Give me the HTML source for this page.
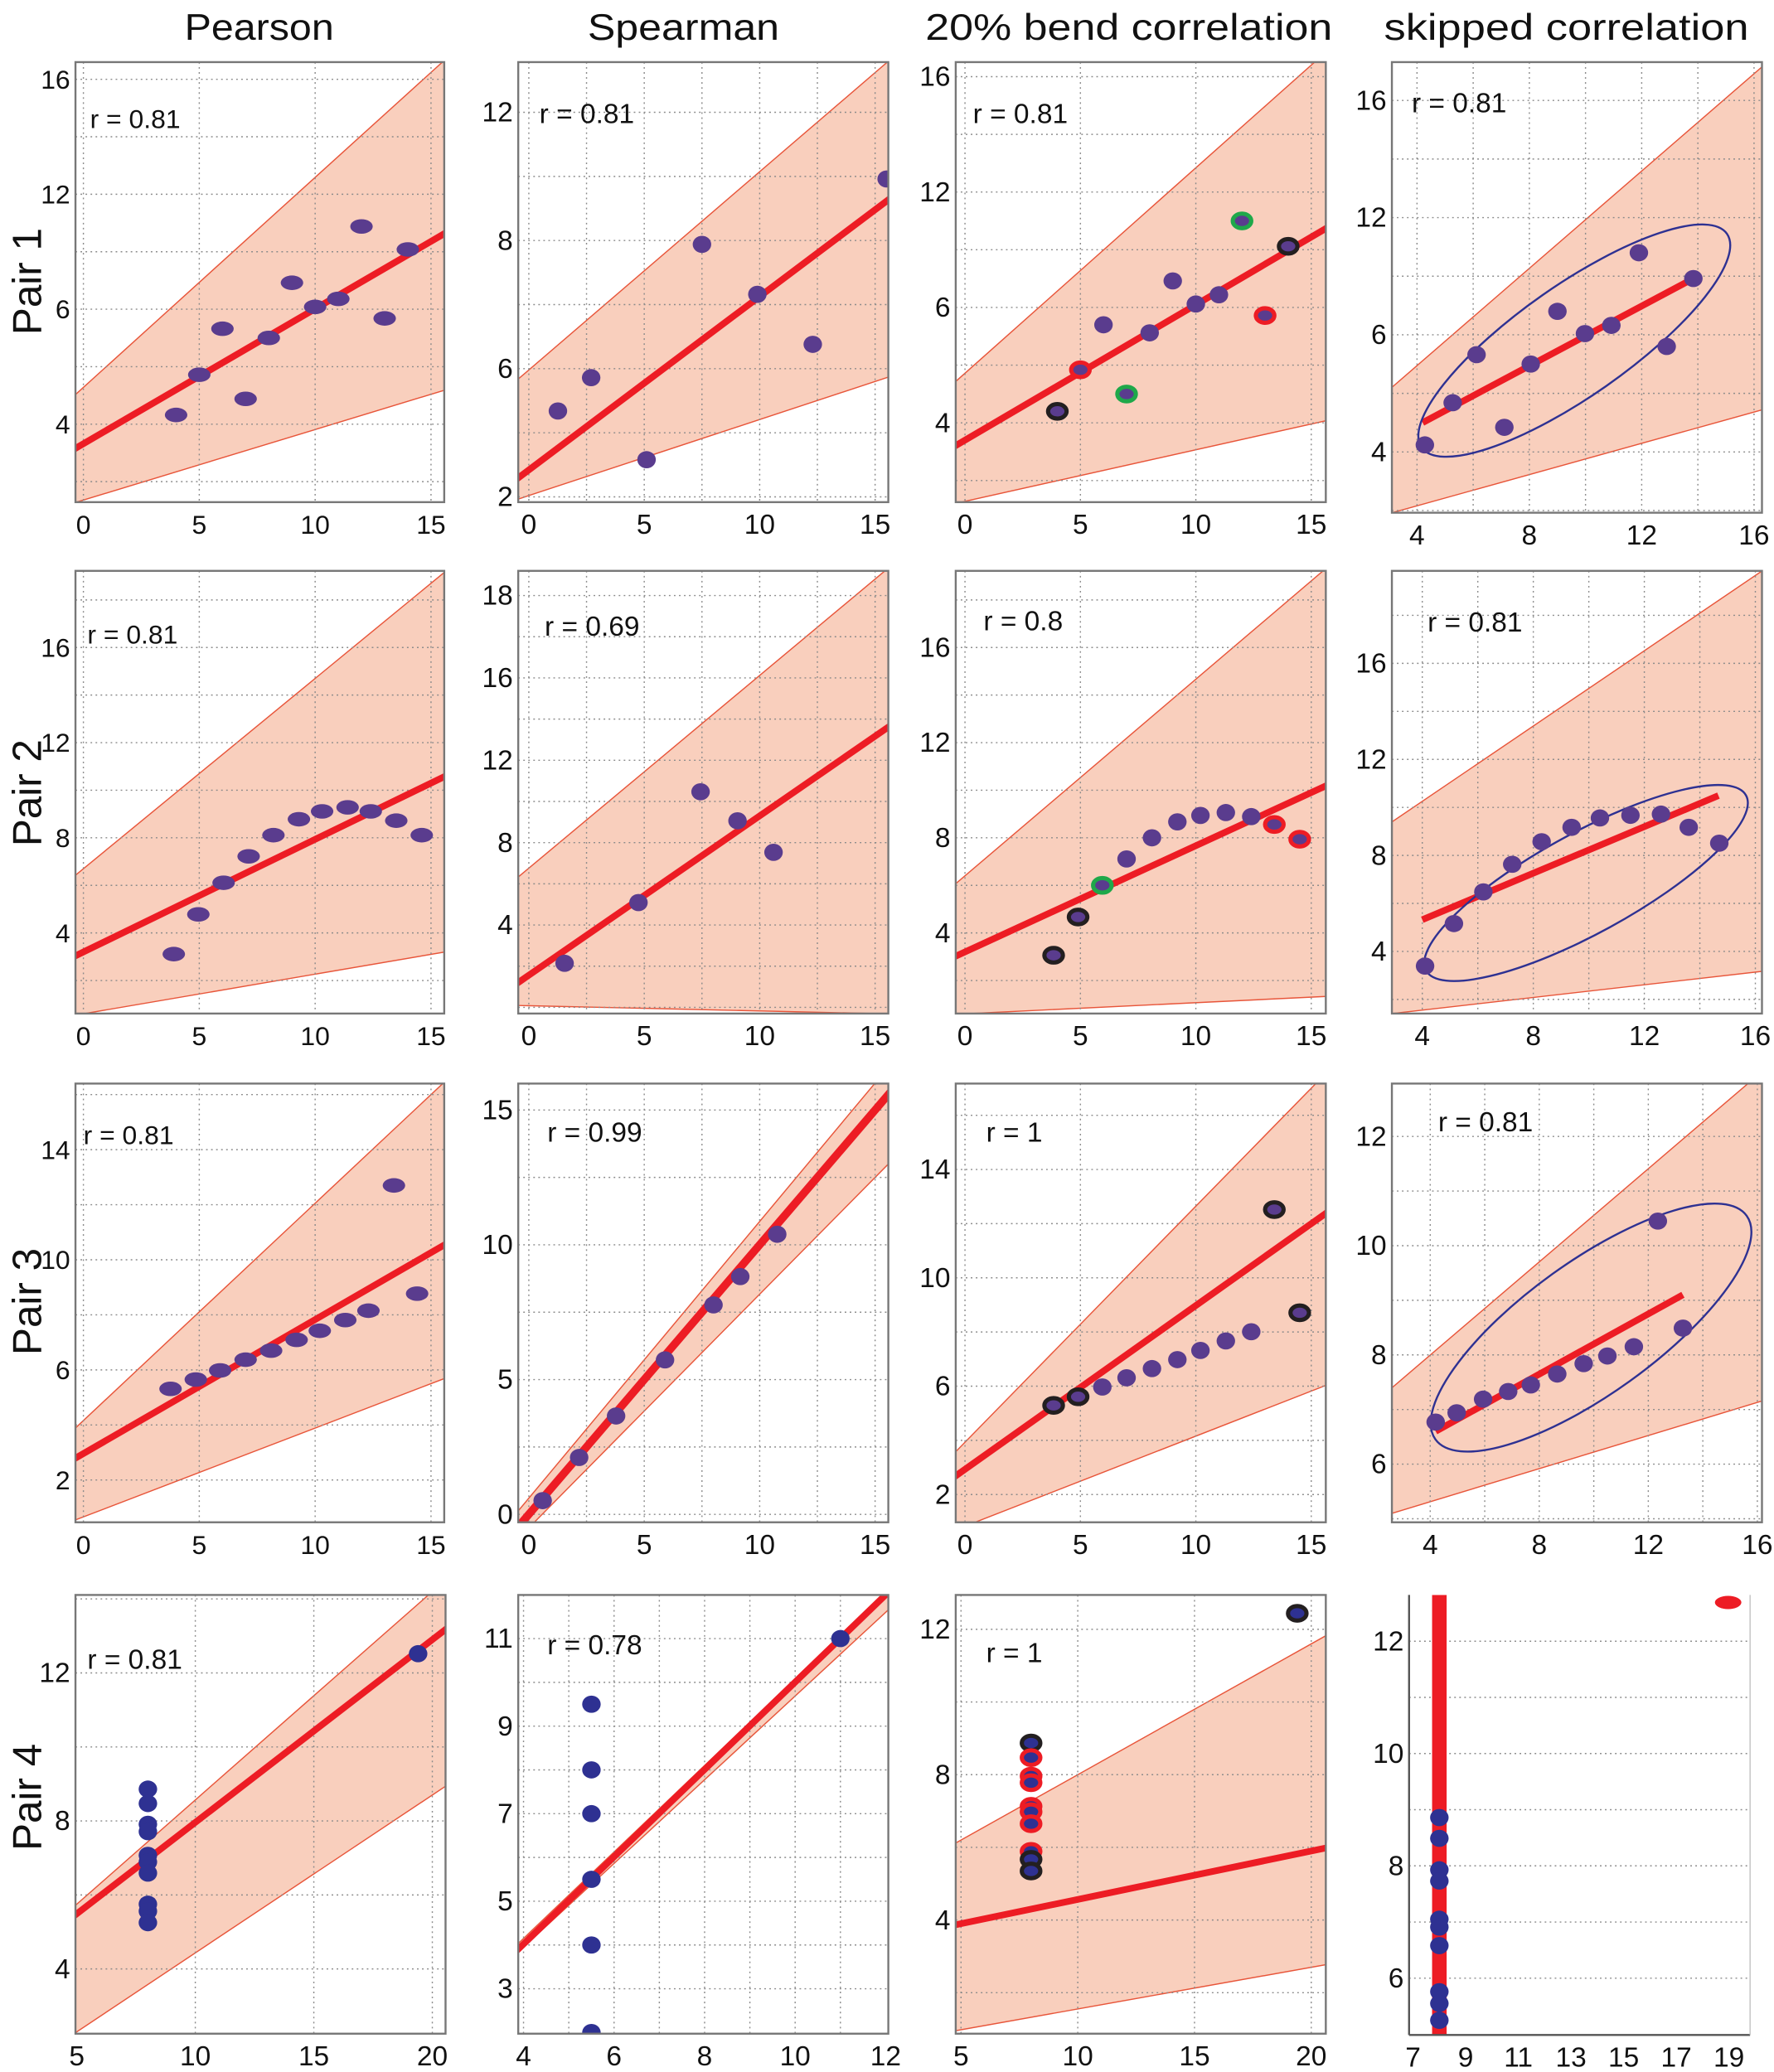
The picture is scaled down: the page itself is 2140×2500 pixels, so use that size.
<!DOCTYPE html>
<html><head><meta charset="utf-8"><style>
html,body{margin:0;padding:0;background:#fff}
svg{display:block}
text{font-family:"Liberation Sans Narrow","Liberation Sans",sans-serif;fill:#111}
text.wide{font-family:"Liberation Sans",sans-serif}
</style></head><body>
<svg id="fig" xmlns="http://www.w3.org/2000/svg" width="2140" height="2500" viewBox="0 0 1342 1568"></svg>
<script>
// ---- data arrays ----
const P11_X=[4,5,6,7,8,9,10,11,12,13,14];
const P11_Y=[0.08,0.43,0.83,0.22,0.75,1.23,1.02,1.09,1.72,0.92,1.52];
const P11_FIT=[-0.17,1.59], P11_UP=[0.32,3.06], P11_LO=[-0.66,0.26];
const P12_X=[1.26,2.7,5.1,7.5,9.9,12.3,15.5];
const P12_Y=[0.67,0.93,0.29,1.97,1.58,1.19,2.48];
const P12_FIT=[0.21,2.24], P12_UP=[0.99,3.31], P12_LO=[0.01,0.9];
const P13_X=[4,5,6,7,8,9,10,11,12,13,14];
const P13_Y=[0.10,0.46,0.85,0.25,0.78,1.23,1.03,1.11,1.75,0.93,1.53];
const P13_RING=['k','r','','g','','','','','g','r','k'];
const P13_FIT=[-0.15,1.61], P13_UP=[0.43,3.1], P13_LO=[-0.68,-0.01];
const P14_X=[4.28,5.27,6.12,7.11,8.05,9,9.98,10.92,11.9,12.89,13.84];
const P14_Y=[0.06,0.42,0.83,0.21,0.75,1.2,1.01,1.08,1.7,0.9,1.48];
const P14_FITX=[4.2,13.84], P14_FIT=[0.25,1.48], P14_UP=[0.55,3.29], P14_LO=[-0.52,0.36];
const P14_ELL=[9.6,0.95];
const P21_X=[3.9,4.96,6.05,7.13,8.2,9.3,10.3,11.4,12.4,13.5,14.6];
const P21_Y=[3.11,4.78,6.11,7.22,8.11,8.78,9.11,9.28,9.11,8.72,8.11];
const P21_FIT=[3.2,10.3], P21_UP=[6.7,18.7], P21_LO=[0.6,3.1];
const P22_X=[1.55,4.75,7.44,9.04,10.6];
const P22_Y=[2.14,5.09,10.47,9.06,7.53];
const P22_FIT=[1.56,13.17], P22_UP=[6.76,20.8], P22_LO=[0.08,-0.3];
const P23_X=[3.84,4.9,5.95,7.0,8.1,9.2,10.2,11.3,12.4,13.4,14.5];
const P23_Y=[3.06,4.67,6.0,7.11,8.0,8.67,8.94,9.06,8.89,8.56,7.94];
const P23_RING=['k','k','g','','','','','','','r','r'];
const P23_FIT=[3.2,9.9], P23_UP=[6.4,18.8], P23_LO=[0.6,1.3];
const P24_X=[4.1,5.14,6.2,7.24,8.3,9.38,10.4,11.5,12.6,13.6,14.7];
const P24_Y=[3.39,5.16,6.48,7.63,8.57,9.17,9.56,9.67,9.72,9.17,8.51];
const P24_FITX=[4,14.67], P24_FIT=[5.32,10.49], P24_UP=[9.39,19.85], P24_LO=[1.41,3.17];
const P24_ELL=[9.9,6.85];
const P31_X=[3.76,4.85,5.9,7.0,8.1,9.2,10.2,11.3,12.3,13.4,14.4];
const P31_Y=[5.31,5.65,5.98,6.37,6.7,7.09,7.42,7.81,8.15,12.7,8.77];
const P31_FIT=[2.96,10.26], P31_UP=[4.16,16.0], P31_LO=[0.66,5.5];
const P32_X=[0.6,2.18,3.78,5.9,8.0,9.16,10.76];
const P32_Y=[0.51,2.11,3.65,5.73,7.77,8.82,10.39];
const P32_FIT=[0.0,15.0], P32_UP=[0.6,16.0], P32_LO=[-0.5,12.5];
const P33_X=[3.84,4.9,5.95,7.0,8.1,9.2,10.2,11.3,12.4,13.4,14.5];
const P33_Y=[5.29,5.61,5.97,6.31,6.65,6.98,7.32,7.67,8.01,12.52,8.71];
const P33_RING=['k','k','','','','','','','','k','k'];
const P33_FIT=[2.93,12.0], P33_UP=[3.93,17.0], P33_LO=[0.83,5.82];
const P34_X=[4.2,4.97,5.94,6.86,7.69,8.66,9.63,10.5,11.47,12.35,13.27];
const P34_Y=[6.77,6.94,7.19,7.33,7.45,7.65,7.84,7.98,8.15,10.45,8.49];
const P34_FITX=[4.2,13.27], P34_FIT=[6.6,9.1], P34_UP=[7.4,13.2], P34_LO=[5.1,7.16];
const P34_ELL=[9.9,8.5];
const P41_X=[8,8,8,8,8,8,8,8,8,8,19.4];
const P41_Y=[8.86,8.47,7.91,7.71,7.07,6.89,6.59,5.75,5.56,5.25,12.52];
const P41_FIT=[5.49,12.9], P41_UP=[5.75,14.2], P41_LO=[2.3,8.7];
const P42_X=[5.5,5.5,5.5,5.5,5.5,5.5,11.0];
const P42_Y=[9.5,8.0,7.0,5.5,4.0,2.0,11.0];
const P42_FIT=[4.02,12.0], P42_UP=[4.15,12.05], P42_LO=[3.95,11.6];
const P43_X=[8,8,8,8,8,8,8,8,8,8,19.4];
const P43_Y=[8.87,8.47,7.96,7.78,7.13,6.98,6.65,5.89,5.67,5.35,12.44];
const P43_RING=['k','r','r','r','r','r','r','r','k','k','k'];
const P43_FIT=[3.9,5.9], P43_UP=[6.2,11.6], P43_LO=[0.98,2.7];
const P44_X=[8,8,8,8,8,8,8,8,8,8];
const P44_Y=[8.86,8.49,7.93,7.73,7.05,6.91,6.58,5.76,5.55,5.25];
const P44_BAR=[8];
const P44_OUT=[18.97,12.69];

// ---- panel layout ----
const PUR='#5a3c8e', BLU='#2e3192';
const panels=[
 {id:'pearson-pair1',box:[57,47,336,380],xa:[0,63],xb:[15,326],ya:[0,321],yb:[3,60],xt:[0,5,10,15],yt:[0,1,2,3],yl:['4','6','12','16'],gxm:false,X:P11_X,Y:P11_Y,fit:P11_FIT,up:P11_UP,lo:P11_LO,bx:[0,15],r:'r = 0.81',rp:[68,97],col:PUR,wide:true},
 {id:'spearman-pair1',box:[392,47,672,380],xa:[0,400],xb:[15,662],ya:[0,376],yb:[3,85],xt:[0,5,10,15],yt:[0,1,2,3],yl:['2','6','8','12'],gxm:true,X:P12_X,Y:P12_Y,fit:P12_FIT,up:P12_UP,lo:P12_LO,bx:[0,15],r:'r = 0.81',rp:[408,93],col:PUR},
 {id:'bend-pair1',box:[723,47,1003,380],xa:[0,730],xb:[15,992],ya:[0,320],yb:[3,58],xt:[0,5,10,15],yt:[0,1,2,3],yl:['4','6','12','16'],gxm:false,X:P13_X,Y:P13_Y,ring:P13_RING,fit:P13_FIT,up:P13_UP,lo:P13_LO,bx:[0,15],r:'r = 0.81',rp:[736,93],col:PUR},
 {id:'skipped-pair1',box:[1053,47,1333,388],xa:[4,1072],xb:[12,1242],ya:[0,342],yb:[3,76],xt:[4,8,12,16],yt:[0,1,2,3],yl:['4','6','12','16'],gxm:true,X:P14_X,Y:P14_Y,fitx:P14_FITX,fit:P14_FIT,up:P14_UP,lo:P14_LO,bx:[3.1,16.3],ell:P14_ELL,er:[141,42,-35],r:'r = 0.81',rp:[1068,85],col:PUR},
 {id:'pearson-pair2',box:[57,432,336,767],xa:[0,63],xb:[15,326],ya:[4,706],yb:[16,490],xt:[0,5,10,15],yt:[4,8,12,16],gxm:false,X:P21_X,Y:P21_Y,fit:P21_FIT,up:P21_UP,lo:P21_LO,bx:[0,15],r:'r = 0.81',rp:[66,487],col:PUR,wide:true},
 {id:'spearman-pair2',box:[392,432,672,767],xa:[0,400],xb:[15,662],ya:[4,700],yb:[16,513],xt:[0,5,10,15],yt:[4,8,12,16,20],yl:['4','8','12','16','18'],gxm:true,X:P22_X,Y:P22_Y,fit:P22_FIT,up:P22_UP,lo:P22_LO,bx:[0,15],r:'r = 0.69',rp:[412,481],col:PUR},
 {id:'bend-pair2',box:[723,432,1003,767],xa:[0,730],xb:[15,992],ya:[4,706],yb:[16,490],xt:[0,5,10,15],yt:[4,8,12,16],gxm:false,X:P23_X,Y:P23_Y,ring:P23_RING,fit:P23_FIT,up:P23_UP,lo:P23_LO,bx:[0,15],r:'r = 0.8',rp:[744,477],col:PUR},
 {id:'skipped-pair2',box:[1053,432,1333,767],xa:[4,1076],xb:[12,1244],ya:[4,720],yb:[16,502],xt:[4,8,12,16],yt:[4,8,12,16],gxm:true,X:P24_X,Y:P24_Y,fitx:P24_FITX,fit:P24_FIT,up:P24_UP,lo:P24_LO,bx:[2.9,16.24],ell:P24_ELL,er:[138,38,-28.7],r:'r = 0.81',rp:[1080,478],col:PUR},
 {id:'pearson-pair3',box:[57,820,336,1152],xa:[0,63],xb:[15,326],ya:[2,1120],yb:[14,870],xt:[0,5,10,15],yt:[2,6,10,14],gxm:false,X:P31_X,Y:P31_Y,fit:P31_FIT,up:P31_UP,lo:P31_LO,bx:[0,15],r:'r = 0.81',rp:[63,866],col:PUR,wide:true},
 {id:'spearman-pair3',box:[392,820,672,1152],xa:[0,400],xb:[15,662],ya:[0,1146],yb:[15,840],xt:[0,5,10,15],yt:[0,5,10,15],gxm:true,X:P32_X,Y:P32_Y,fit:P32_FIT,up:P32_UP,lo:P32_LO,bx:[0,15],r:'r = 0.99',rp:[414,864],col:PUR,fw:6},
 {id:'bend-pair3',box:[723,820,1003,1152],xa:[0,730],xb:[15,992],ya:[2,1131],yb:[14,885],xt:[0,5,10,15],yt:[2,6,10,14],gxm:false,X:P33_X,Y:P33_Y,ring:P33_RING,fit:P33_FIT,up:P33_UP,lo:P33_LO,bx:[0,15],r:'r = 1',rp:[746,864],col:PUR},
 {id:'skipped-pair3',box:[1053,820,1333,1152],xa:[4,1082],xb:[12,1247],ya:[6,1108],yb:[12,860],xt:[4,8,12,16],yt:[6,8,10,12],gxm:true,X:P34_X,Y:P34_Y,fitx:P34_FITX,fit:P34_FIT,up:P34_UP,lo:P34_LO,bx:[2.6,16.2],ell:P34_ELL,er:[145,50,-35.7],r:'r = 0.81',rp:[1088,856],col:PUR},
 {id:'pearson-pair4',box:[57,1207,337,1539],xa:[5,58],xb:[20,327],ya:[4,1490],yb:[12,1266],xt:[5,10,15,20],yt:[4,8,12],gxm:false,X:P41_X,Y:P41_Y,fit:P41_FIT,up:P41_UP,lo:P41_LO,bx:[5,20],r:'r = 0.81',rp:[66,1263],col:BLU},
 {id:'spearman-pair4',box:[392,1207,672,1539],xa:[4,396],xb:[12,670],ya:[3,1505],yb:[11,1240],xt:[4,6,8,10,12],yt:[3,5,7,9,11],gxm:true,X:P42_X,Y:P42_Y,fit:P42_FIT,up:P42_UP,lo:P42_LO,bx:[4,12],r:'r = 0.78',rp:[414,1252],col:BLU},
 {id:'bend-pair4',box:[723,1207,1003,1539],xa:[5,727],xb:[20,992],ya:[4,1453],yb:[12,1233],xt:[5,10,15,20],yt:[4,8,12],gxm:false,X:P43_X,Y:P43_Y,ring:P43_RING,fit:P43_FIT,up:P43_UP,lo:P43_LO,bx:[5,20],r:'r = 1',rp:[746,1258],col:BLU},
 {id:'skipped-pair4',box:[1066,1207,1324,1540],xa:[7,1069],xb:[19,1308],ya:[6,1497],yb:[12,1242],xt:[7,9,11,13,15,17,19],yt:[6,8,10,12],gxm:false,noVGrid:true,special:true,X:P44_X,Y:P44_Y,col:BLU}
];

const NS='http://www.w3.org/2000/svg';
const svg=document.getElementById('fig');
function mk(tag,attrs,parent){const e=document.createElementNS(NS,tag);for(const k in attrs)e.setAttribute(k,attrs[k]);(parent||svg).appendChild(e);return e;}

// titles
const titles=[['Pearson',196,113],['Spearman',517,145],['20% bend correlation',854,308],['skipped correlation',1185,276]];
titles.forEach(function(t,i){
  const e=mk('text',{x:t[1],y:30,'text-anchor':'middle','font-size':28,textLength:t[2],lengthAdjust:'spacingAndGlyphs'});
  e.textContent=t[0];
  
  
});
const rows=[213,600,985,1360];
rows.forEach(function(cy,i){
  const e=mk('text',{x:0,y:0,'text-anchor':'middle','font-size':31,transform:'translate(31,'+cy+') rotate(-90)'});
  e.textContent='Pair '+(i+1);
  
  
});

const RC={k:'#231f20',r:'#ed1c24',g:'#1fa84a'};
panels.forEach(function(p,pi){
  const g=mk('g',{});
  
  
  const [x0,y0,x1,y1]=p.box;
  const sx=v=>p.xa[1]+(v-p.xa[0])*(p.xb[1]-p.xa[1])/(p.xb[0]-p.xa[0]);
  const sy=v=>p.ya[1]+(v-p.ya[0])*(p.yb[1]-p.ya[1])/(p.yb[0]-p.ya[0]);
  const ix=px=>p.xa[0]+(px-p.xa[1])*(p.xb[0]-p.xa[0])/(p.xb[1]-p.xa[1]);
  const cid='clip'+pi;
  const cp=mk('clipPath',{id:cid},g); mk('rect',{x:x0,y:y0,width:x1-x0,height:y1-y0},cp);
  const cg=mk('g',{'clip-path':'url(#'+cid+')'},g);
  const lin=(arr,bx,v)=>arr[0]+(v-bx[0])*(arr[1]-arr[0])/(bx[1]-bx[0]);
  const cls=p.wide?'wide':'';
  if(!p.special){
    const vl=ix(x0-2), vr=ix(x1+2);
    const pts=[[vl,lin(p.up,p.bx,vl)],[vr,lin(p.up,p.bx,vr)],[vr,lin(p.lo,p.bx,vr)],[vl,lin(p.lo,p.bx,vl)]];
    const band=mk('polygon',{points:pts.map(q=>sx(q[0])+','+sy(q[1])).join(' '),fill:'#f9cfbd'},cg);
    
    
    [p.up,p.lo].forEach(function(a,k){
      const l=mk('line',{x1:sx(vl),y1:sy(lin(a,p.bx,vl)),x2:sx(vr),y2:sy(lin(a,p.bx,vr)),stroke:'#e8553a','stroke-width':0.9},cg);
      
      
    });
  }
  // grid
  const gstyle={stroke:'#8a8a8a','stroke-width':0.9,'stroke-dasharray':'1.2,2.6'};
  const yst=p.yt[1]-p.yt[0];
  for(let v=p.yt[0]-yst;v<=p.yt[p.yt.length-1]+yst+1e-9;v+=yst/2){
    const yy=sy(v); if(yy<y0+1||yy>y1-1)continue;
    const l=mk('line',Object.assign({x1:x0,x2:x1,y1:yy,y2:yy},gstyle),cg);
    
    
  }
  if(!p.noVGrid){
    const xst=p.xt[1]-p.xt[0];
    for(let v=p.xt[0]-xst;v<=p.xt[p.xt.length-1]+xst+1e-9;v+=(p.gxm?xst/2:xst)){
      const xx=sx(v); if(xx<x0+3||xx>x1-3)continue;
      const l=mk('line',Object.assign({x1:xx,x2:xx,y1:y0,y2:y1},gstyle),cg);
      
      
    }
  }
  // frame
  if(p.special){
    mk('line',{x1:x0,y1:y0,x2:x0,y2:y1,stroke:'#555','stroke-width':1.5},g);
    mk('line',{x1:x0,y1:y1,x2:x1,y2:y1,stroke:'#555','stroke-width':1.5},g);
    mk('line',{x1:x1,y1:y0,x2:x1,y2:y1,stroke:'#bbb','stroke-width':0.8},g);
  } else {
    const fr=mk('rect',{x:x0,y:y0,width:x1-x0,height:y1-y0,fill:'none',stroke:'#777','stroke-width':1.5},g);
    
    
  }
  // fit line
  if(!p.special){
    let fa,fb,ya2,yb2;
    if(p.fitx){fa=p.fitx[0];fb=p.fitx[1];ya2=p.fit[0];yb2=p.fit[1];}
    else{fa=ix(x0-2);fb=ix(x1+2);ya2=lin(p.fit,p.bx,fa);yb2=lin(p.fit,p.bx,fb);}
    const fl=mk('line',{x1:sx(fa),y1:sy(ya2),x2:sx(fb),y2:sy(yb2),stroke:'#ed1c24','stroke-width':p.fw||5},cg);
    
    
  } else {
    P44_BAR.forEach(function(b){
      const r=mk('rect',{x:sx(b)-5.5,y:y0,width:11,height:y1-y0,fill:'#ed1c24'},cg);
      
      
    });
  }
  if(p.ell){
    const e=mk('ellipse',{cx:0,cy:0,rx:p.er[0],ry:p.er[1],fill:'none',stroke:'#2e3192','stroke-width':1.5,transform:'translate('+sx(p.ell[0])+','+sy(p.ell[1])+') rotate('+p.er[2]+')'},cg);
    
    
  }
  // points
  p.X.forEach(function(xv,i){
    const ring=p.ring?p.ring[i]:'';
    const attrs={cx:sx(xv),cy:sy(p.Y[i]),rx:p.wide?8.5:7,ry:p.wide?5.5:6.5,fill:p.col};
    if(ring){attrs.stroke=RC[ring];attrs['stroke-width']=3.2;attrs.rx=7;attrs.ry=5.5;}
    const c=mk('ellipse',attrs,cg);
    
    
  });
  if(p.special){
    const o=mk('ellipse',{cx:sx(P44_OUT[0]),cy:sy(P44_OUT[1]),rx:10,ry:5,fill:'#ed1c24'},g);
    
    
  }
  // r label
  if(p.r){
    const t=mk('text',{x:p.rp[0],y:p.rp[1],'font-size':p.wide?20:21,class:cls},g);
    t.textContent=p.r;
    
    
  }
  // tick labels
  p.xt.forEach(function(v){
    const t=mk('text',{x:sx(v),y:y1+24,'text-anchor':'middle','font-size':p.wide?20:21,class:cls},g);
    t.textContent=String(v);
    
    
  });
  p.yt.forEach(function(v,i){
    const t=mk('text',{x:x0-4,y:sy(v)+7,'text-anchor':'end','font-size':p.wide?20:21,class:cls},g);
    t.textContent=p.yl?p.yl[i]:String(v);
    
    
  });
});
</script>
</body></html>
